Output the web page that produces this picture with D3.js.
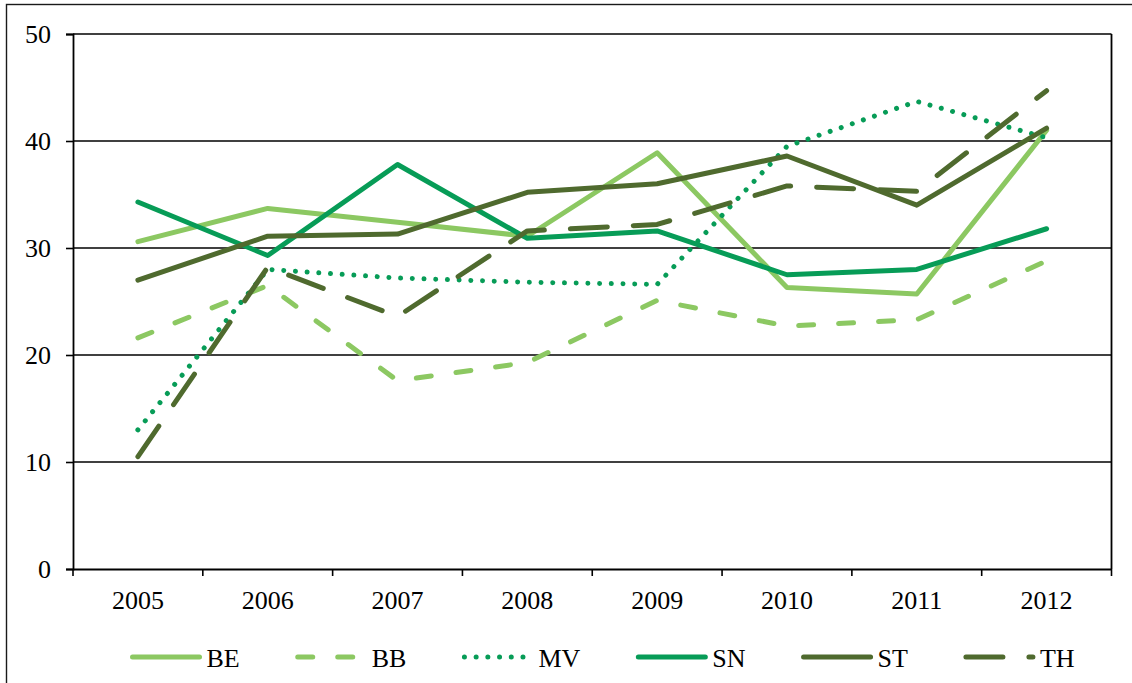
<!DOCTYPE html>
<html>
<head>
<meta charset="utf-8">
<script src="https://cdn.jsdelivr.net/npm/d3@7"></script>
<style>
  html, body { margin: 0; padding: 0; background: #fff; }
  svg { display: block; }
  text { font-family: "Liberation Serif", "Times New Roman", serif; fill: #000; }
</style>
</head>
<body>
<svg id="chart" width="1132" height="683"></svg>
<script>
const years = ["2005", "2006", "2007", "2008", "2009", "2010", "2011", "2012"];
const yTicks = [0, 10, 20, 30, 40, 50];

const seriesNames = ["BE", "BB", "MV", "SN", "ST", "TH"];
const BE = [30.6, 33.7, 32.4, 31.1, 38.9, 26.3, 25.7, 41.0];
const BB = [21.6, 26.5, 17.6, 19.3, 25.1, 22.7, 23.3, 28.8];
const MV = [13.0, 28.0, 27.2, 26.8, 26.6, 39.5, 43.7, 40.3];
const SN = [34.3, 29.3, 37.8, 30.9, 31.6, 27.5, 28.0, 31.8];
const ST = [27.0, 31.1, 31.3, 35.2, 36.0, 38.6, 34.0, 41.2];
const TH = [10.5, 28.2, 23.6, 31.6, 32.2, 35.8, 35.3, 44.7];

const seriesValues = [BE, BB, MV, SN, ST, TH];
const styles = {
  BE: { color: "#8CC862", dash: null },
  BB: { color: "#8CC862", dash: "15,25" },
  MV: { color: "#079C57", dash: "0.01,11.7" },
  SN: { color: "#079C57", dash: null },
  ST: { color: "#4F6A2E", dash: null },
  TH: { color: "#4F6A2E", dash: "37,26" }
};

(function () {
const svg = d3.select("#chart");
const mLeft = 73, mRight = 1111.5, mTop = 34, mBottom = 569;
const FONT = "'Liberation Serif', 'Times New Roman', serif";

const x = d3.scaleBand().domain(years).range([mLeft, mRight]).padding(0);
const y = d3.scaleLinear().domain([0, 50]).range([mBottom, mTop]);

// outer frame (cropped at right/bottom)
svg.append("rect")
  .attr("x", 6.5).attr("y", 4.5).attr("width", 1200).attr("height", 800)
  .attr("fill", "none").attr("stroke", "#1a1a1a").attr("stroke-width", 1.4);

// gridlines
svg.append("g").selectAll("line").data(yTicks.filter(d => d > 0)).join("line")
  .attr("x1", mLeft).attr("x2", mRight)
  .attr("y1", d => y(d)).attr("y2", d => y(d))
  .attr("stroke", "#000").attr("stroke-width", 1.6);

// right border
svg.append("line").attr("x1", mRight).attr("x2", mRight).attr("y1", mTop).attr("y2", mBottom)
  .attr("stroke", "#000").attr("stroke-width", 1.8);

// y axis
const yAxis = d3.axisLeft(y).tickValues(yTicks).tickSize(7).tickPadding(15).tickFormat(d3.format("d"));
const gy = svg.append("g").attr("transform", `translate(${mLeft},0)`).call(yAxis);
gy.attr("font-family", null);
gy.select(".domain").attr("stroke", "#000").attr("stroke-width", 1.8);
gy.selectAll(".tick line").attr("stroke", "#000").attr("stroke-width", 1.6);
gy.selectAll(".tick text").style("font-size", "26px").style("font-family", FONT).attr("fill", "#000");

// x axis
const xAxis = d3.axisBottom(x).tickSize(0).tickPadding(22);
const gx = svg.append("g").attr("transform", `translate(0,${mBottom})`).call(xAxis);
gx.attr("font-family", null);
gx.select(".domain").attr("stroke", "#000").attr("stroke-width", 1.8);
gx.selectAll(".tick text").style("font-size", "26px").style("font-family", FONT).attr("fill", "#000");
// tick marks at band boundaries
const boundaries = years.map(d => x(d)).concat([mRight]);
svg.append("g").selectAll("line").data(boundaries).join("line")
  .attr("x1", d => d).attr("x2", d => d)
  .attr("y1", mBottom).attr("y2", mBottom + 7)
  .attr("stroke", "#000").attr("stroke-width", 1.6);

// lines
const line = d3.line()
  .x((d, i) => x(years[i]) + x.bandwidth() / 2)
  .y(d => y(d));

seriesNames.forEach((name, k) => {
  const s = styles[name];
  svg.append("path")
    .datum(seriesValues[k])
    .attr("d", line)
    .attr("fill", "none")
    .attr("stroke", s.color)
    .attr("stroke-width", 5)
    .attr("stroke-linecap", "round")
    .attr("stroke-linejoin", "round")
    .attr("stroke-dasharray", s.dash);
});

// legend
const legendY = 657;
const lg = svg.append("g");
let x0 = 130;
seriesNames.forEach((name, i) => {
  const s = styles[name];
  lg.append("path")
    .attr("d", `M${x0 + 2.5},${legendY}H${x0 + 69.5}`)
    .attr("fill", "none")
    .attr("stroke", s.color)
    .attr("stroke-width", 5)
    .attr("stroke-linecap", "round")
    .attr("stroke-dasharray", s.dash);
  const t = lg.append("text")
    .attr("x", x0 + 76.5)
    .attr("y", legendY + 10)
    .style("font-size", "26px")
    .style("font-family", FONT)
    .text(name);
  const w = t.node().getComputedTextLength();
  x0 = x0 + 76.5 + w + 55.5;
});
})();
</script>
</body>
</html>
